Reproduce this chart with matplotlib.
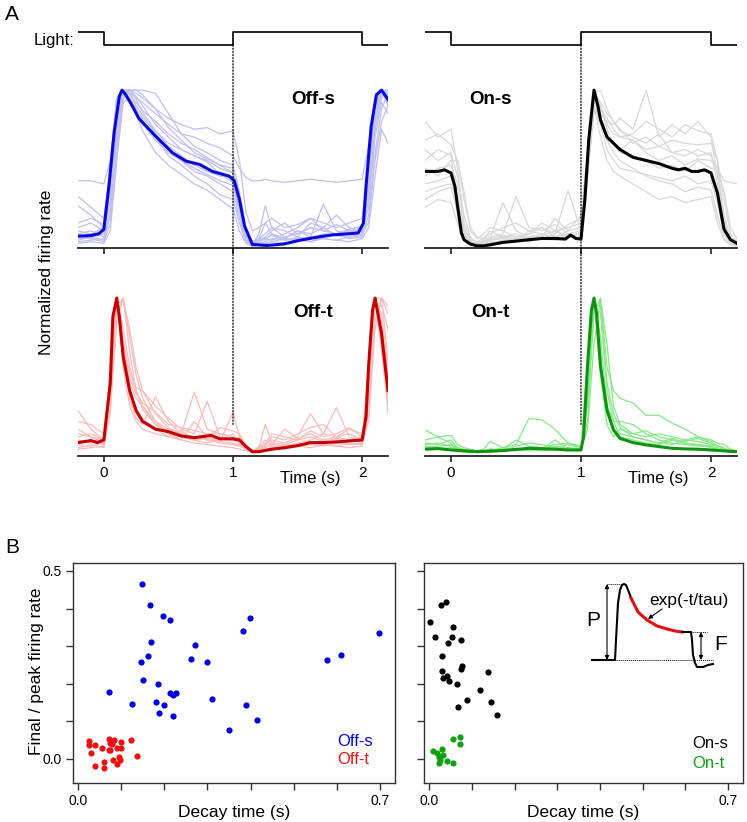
import numpy as np
import matplotlib.pyplot as plt
from matplotlib.patches import ConnectionPatch

plt.rcParams['font.family'] = ['Liberation Sans', 'DejaVu Sans']

W, H = 747, 822

# ---------------- Panel A data ----------------
# light stimulus (1 = on)
light_t = [-0.2, 0.0, 1.0, 2.0, 2.2]
light_on = [1, 0, 1, 0, 0]

# time grid of the single-cell traces (s)
t_cells = [-0.2, -0.1, 0.0, 0.05, 0.1, 0.15, 0.2, 0.25, 0.3, 0.4, 0.5, 0.6, 0.7, 0.8, 0.9, 1.0,
           1.05, 1.1, 1.15, 1.2, 1.25, 1.3, 1.4, 1.5, 1.6, 1.7, 1.8, 1.9, 2.0, 2.05, 2.1, 2.15, 2.2]

# Off-s
off_s_t = [-0.2, -0.1, -0.04, 0.0, 0.04, 0.08, 0.12, 0.14, 0.17, 0.22, 0.27, 0.4, 0.53, 0.635, 0.74, 0.84,
           0.97, 1.01, 1.05, 1.09, 1.15, 1.26, 1.39, 1.52, 1.67, 1.77, 1.93, 1.97, 2.01, 2.03, 2.07, 2.11, 2.15, 2.2]
off_s_mean = [0.066, 0.07, 0.081, 0.109, 0.39, 0.73, 0.96, 1.0, 0.97, 0.90, 0.82, 0.706, 0.60, 0.546, 0.525, 0.48,
              0.45, 0.42, 0.30, 0.13, 0.013, 0.006, 0.015, 0.04, 0.062, 0.074, 0.083, 0.087, 0.15, 0.386, 0.77, 0.97, 1.0, 0.94]
off_s_cells = [
    [0.42, 0.42, 0.40, 0.55, 0.95, 1.0, 0.98, 0.95, 0.92, 0.85, 0.78, 0.72, 0.70, 0.66, 0.63, 0.58, 0.50, 0.44, 0.42, 0.42, 0.43, 0.42, 0.41, 0.42, 0.43, 0.42, 0.41, 0.42, 0.43, 0.65, 0.95, 1.0, 0.9],
    [0.32, 0.25, 0.18, 0.50, 0.92, 1.0, 1.0, 0.98, 0.95, 0.88, 0.82, 0.78, 0.75, 0.76, 0.72, 0.74, 0.55, 0.22, 0.10, 0.12, 0.15, 0.18, 0.12, 0.14, 0.18, 0.15, 0.12, 0.15, 0.18, 0.55, 0.92, 1.0, 0.95],
    [0.26, 0.20, 0.12, 0.35, 0.85, 1.0, 1.0, 1.0, 1.0, 0.98, 0.85, 0.72, 0.64, 0.60, 0.55, 0.52, 0.35, 0.10, 0.03, 0.05, 0.08, 0.12, 0.06, 0.08, 0.12, 0.10, 0.08, 0.10, 0.12, 0.45, 0.88, 1.0, 1.0],
    [0.12, 0.15, 0.10, 0.30, 0.80, 1.0, 0.95, 0.88, 0.82, 0.74, 0.66, 0.62, 0.58, 0.55, 0.50, 0.47, 0.30, 0.08, 0.02, 0.05, 0.15, 0.08, 0.05, 0.10, 0.06, 0.27, 0.10, 0.08, 0.10, 0.35, 0.80, 0.98, 1.0],
    [0.08, 0.10, 0.06, 0.20, 0.70, 1.0, 0.98, 0.90, 0.84, 0.72, 0.62, 0.55, 0.50, 0.46, 0.42, 0.39, 0.22, 0.05, 0.01, 0.02, 0.03, 0.05, 0.04, 0.06, 0.05, 0.08, 0.07, 0.06, 0.08, 0.30, 0.75, 0.95, 0.98],
    [0.05, 0.06, 0.08, 0.45, 0.95, 0.98, 0.92, 0.85, 0.78, 0.68, 0.60, 0.55, 0.48, 0.45, 0.40, 0.35, 0.18, 0.04, 0.0, 0.01, 0.02, 0.03, 0.05, 0.04, 0.06, 0.05, 0.04, 0.06, 0.07, 0.40, 0.85, 1.0, 0.92],
    [0.10, 0.08, 0.12, 0.40, 0.90, 1.0, 0.93, 0.86, 0.80, 0.70, 0.58, 0.52, 0.45, 0.40, 0.33, 0.30, 0.15, 0.03, 0.01, 0.08, 0.26, 0.12, 0.10, 0.06, 0.15, 0.12, 0.20, 0.12, 0.10, 0.25, 0.70, 0.92, 0.85],
    [0.03, 0.04, 0.05, 0.25, 0.75, 0.98, 1.0, 0.96, 0.90, 0.78, 0.70, 0.62, 0.58, 0.54, 0.46, 0.41, 0.25, 0.06, 0.01, 0.03, 0.05, 0.07, 0.04, 0.05, 0.03, 0.06, 0.08, 0.05, 0.06, 0.20, 0.60, 0.88, 0.98],
    [0.06, 0.05, 0.03, 0.15, 0.60, 0.95, 1.0, 0.94, 0.86, 0.74, 0.64, 0.58, 0.52, 0.48, 0.45, 0.44, 0.28, 0.07, 0.02, 0.04, 0.06, 0.10, 0.15, 0.08, 0.12, 0.10, 0.14, 0.10, 0.09, 0.15, 0.55, 0.80, 0.90],
    [0.02, 0.03, 0.02, 0.10, 0.55, 0.92, 0.95, 0.85, 0.74, 0.60, 0.52, 0.46, 0.40, 0.36, 0.30, 0.24, 0.10, 0.02, 0.0, 0.01, 0.02, 0.03, 0.02, 0.04, 0.03, 0.05, 0.04, 0.03, 0.05, 0.12, 0.45, 0.75, 0.66],
    [0.15, 0.18, 0.14, 0.50, 0.92, 1.0, 0.97, 0.92, 0.87, 0.80, 0.72, 0.66, 0.62, 0.57, 0.52, 0.50, 0.30, 0.08, 0.03, 0.05, 0.04, 0.08, 0.05, 0.10, 0.08, 0.12, 0.07, 0.09, 0.12, 0.45, 0.90, 1.0, 0.98],
    [0.04, 0.06, 0.04, 0.20, 0.65, 0.95, 1.0, 1.0, 0.97, 0.88, 0.76, 0.68, 0.60, 0.56, 0.52, 0.47, 0.32, 0.09, 0.02, 0.03, 0.05, 0.04, 0.08, 0.12, 0.18, 0.10, 0.08, 0.11, 0.13, 0.38, 0.82, 0.97, 0.95],
]

# Off-t
off_t_t = [-0.2, -0.1, -0.05, 0.0, 0.05, 0.07, 0.1, 0.12, 0.15, 0.2, 0.25, 0.3, 0.4, 0.5, 0.6, 0.7, 0.8, 0.83, 0.9,
           1.0, 1.05, 1.1, 1.15, 1.2, 1.3, 1.4, 1.5, 1.6, 1.7, 1.8, 1.9, 2.0, 2.03, 2.05, 2.08, 2.1, 2.15, 2.2]
off_t_mean = [0.063, 0.076, 0.063, 0.08, 0.45, 0.88, 1.0, 0.88, 0.62, 0.40, 0.27, 0.20, 0.15, 0.134, 0.106, 0.095, 0.106, 0.11, 0.087,
              0.087, 0.08, 0.037, 0.004, 0.004, 0.02, 0.03, 0.043, 0.063, 0.063, 0.067, 0.074, 0.08, 0.23, 0.56, 0.92, 1.0, 0.77, 0.40]
off_t_cells = [
    [0.27, 0.15, 0.08, 0.50, 1.0, 0.70, 0.45, 0.35, 0.30, 0.20, 0.15, 0.12, 0.39, 0.15, 0.12, 0.10, 0.08, 0.03, 0.0, 0.02, 0.05, 0.08, 0.06, 0.10, 0.25, 0.12, 0.10, 0.08, 0.10, 0.45, 1.0, 0.85, 0.50],
    [0.10, 0.12, 0.08, 0.40, 1.0, 0.80, 0.55, 0.42, 0.40, 0.30, 0.22, 0.15, 0.12, 0.33, 0.10, 0.08, 0.06, 0.02, 0.0, 0.01, 0.03, 0.05, 0.04, 0.06, 0.08, 0.12, 0.29, 0.10, 0.08, 0.30, 0.95, 0.95, 0.80],
    [0.05, 0.04, 0.06, 0.55, 1.0, 0.60, 0.35, 0.22, 0.18, 0.36, 0.20, 0.12, 0.10, 0.08, 0.06, 0.05, 0.04, 0.02, 0.01, 0.03, 0.18, 0.06, 0.05, 0.04, 0.06, 0.05, 0.04, 0.06, 0.05, 0.60, 1.0, 0.70, 0.35],
    [0.20, 0.18, 0.12, 0.35, 0.95, 1.0, 0.65, 0.40, 0.30, 0.18, 0.14, 0.10, 0.08, 0.09, 0.07, 0.26, 0.10, 0.03, 0.01, 0.02, 0.04, 0.10, 0.08, 0.12, 0.16, 0.18, 0.10, 0.15, 0.12, 0.40, 1.0, 1.0, 0.60],
    [0.02, 0.03, 0.04, 0.30, 0.90, 1.0, 0.75, 0.50, 0.35, 0.20, 0.12, 0.08, 0.06, 0.05, 0.04, 0.03, 0.02, 0.01, 0.0, 0.01, 0.02, 0.03, 0.02, 0.04, 0.03, 0.05, 0.04, 0.03, 0.04, 0.25, 0.85, 1.0, 0.90],
    [0.06, 0.08, 0.05, 0.45, 1.0, 0.55, 0.30, 0.20, 0.15, 0.12, 0.10, 0.14, 0.08, 0.06, 0.09, 0.08, 0.10, 0.04, 0.01, 0.02, 0.01, 0.04, 0.03, 0.05, 0.07, 0.06, 0.08, 0.05, 0.06, 0.55, 1.0, 0.65, 0.30],
    [0.12, 0.10, 0.08, 0.48, 1.0, 0.68, 0.48, 0.38, 0.32, 0.26, 0.18, 0.16, 0.14, 0.12, 0.12, 0.10, 0.08, 0.03, 0.01, 0.03, 0.06, 0.12, 0.10, 0.08, 0.14, 0.10, 0.12, 0.16, 0.10, 0.42, 1.0, 0.80, 0.45],
    [0.03, 0.05, 0.03, 0.25, 0.85, 1.0, 0.80, 0.55, 0.40, 0.25, 0.16, 0.12, 0.10, 0.08, 0.07, 0.06, 0.05, 0.02, 0.0, 0.0, 0.02, 0.02, 0.03, 0.04, 0.05, 0.04, 0.06, 0.05, 0.06, 0.20, 0.80, 1.0, 0.95],
    [0.15, 0.10, 0.06, 0.42, 1.0, 0.62, 0.40, 0.28, 0.22, 0.15, 0.10, 0.08, 0.20, 0.10, 0.08, 0.12, 0.05, 0.02, 0.0, 0.04, 0.08, 0.05, 0.15, 0.09, 0.12, 0.08, 0.10, 0.12, 0.08, 0.50, 1.0, 0.75, 0.25],
    [0.08, 0.06, 0.10, 0.52, 1.0, 0.72, 0.52, 0.40, 0.28, 0.18, 0.12, 0.10, 0.08, 0.10, 0.16, 0.14, 0.12, 0.05, 0.01, 0.02, 0.03, 0.06, 0.05, 0.08, 0.10, 0.07, 0.09, 0.07, 0.07, 0.35, 0.98, 0.90, 0.55],
]

# On-s
on_s_t = [-0.2, -0.1, -0.05, 0.0, 0.03, 0.05, 0.08, 0.1, 0.15, 0.2, 0.25, 0.3, 0.4, 0.5, 0.6, 0.7, 0.8, 0.88, 0.92, 0.96, 1.0,
          1.03, 1.06, 1.1, 1.13, 1.15, 1.2, 1.3, 1.4, 1.5, 1.6, 1.7, 1.75, 1.8, 1.85, 1.9, 1.95, 2.0, 2.05, 2.1, 2.15, 2.2]
on_s_mean = [0.48, 0.48, 0.49, 0.47, 0.385, 0.26, 0.086, 0.043, 0.015, 0.004, 0.004, 0.01, 0.026, 0.034, 0.043, 0.051, 0.051, 0.047, 0.073, 0.051, 0.047,
             0.30, 0.685, 1.0, 0.90, 0.81, 0.70, 0.62, 0.57, 0.55, 0.53, 0.50, 0.49, 0.50, 0.48, 0.48, 0.49, 0.47, 0.34, 0.11, 0.043, 0.02]
on_s_cells = [
    [0.80, 0.70, 0.75, 0.50, 0.15, 0.05, 0.03, 0.05, 0.10, 0.06, 0.05, 0.08, 0.12, 0.06, 0.10, 0.12, 0.60, 0.95, 0.85, 0.80, 0.78, 0.82, 0.75, 1.0, 0.70, 0.78, 0.72, 0.80, 0.70, 0.45, 0.15, 0.05, 0.03],
    [0.55, 0.62, 0.58, 0.30, 0.08, 0.02, 0.0, 0.02, 0.05, 0.28, 0.10, 0.06, 0.08, 0.05, 0.07, 0.08, 0.55, 1.0, 0.90, 0.78, 0.72, 0.70, 0.68, 0.62, 0.64, 0.60, 0.62, 0.58, 0.60, 0.40, 0.10, 0.03, 0.02],
    [0.45, 0.50, 0.52, 0.40, 0.12, 0.03, 0.02, 0.04, 0.06, 0.08, 0.32, 0.12, 0.10, 0.14, 0.08, 0.06, 0.45, 0.85, 0.90, 0.75, 0.65, 0.60, 0.58, 0.55, 0.50, 0.52, 0.48, 0.55, 0.50, 0.50, 0.42, 0.41, 0.40],
    [0.30, 0.35, 0.38, 0.22, 0.05, 0.01, 0.0, 0.01, 0.02, 0.04, 0.05, 0.06, 0.05, 0.08, 0.36, 0.10, 0.50, 0.95, 0.80, 0.68, 0.60, 0.55, 0.50, 0.45, 0.42, 0.40, 0.35, 0.38, 0.36, 0.20, 0.05, 0.02, 0.01],
    [0.62, 0.55, 0.60, 0.45, 0.20, 0.06, 0.02, 0.03, 0.04, 0.06, 0.08, 0.05, 0.07, 0.10, 0.12, 0.15, 0.60, 0.98, 1.0, 0.88, 0.80, 0.74, 0.70, 0.66, 0.72, 0.60, 0.58, 0.62, 0.58, 0.48, 0.20, 0.05, 0.02],
    [0.25, 0.30, 0.28, 0.15, 0.04, 0.01, 0.0, 0.02, 0.03, 0.02, 0.04, 0.03, 0.05, 0.04, 0.06, 0.05, 0.45, 0.90, 0.70, 0.55, 0.48, 0.45, 0.40, 0.35, 0.30, 0.32, 0.28, 0.30, 0.32, 0.15, 0.04, 0.01, 0.0],
    [0.50, 0.45, 0.55, 0.55, 0.35, 0.10, 0.05, 0.08, 0.12, 0.10, 0.06, 0.04, 0.06, 0.18, 0.10, 0.20, 0.58, 0.95, 0.82, 0.70, 0.66, 0.62, 0.68, 0.60, 0.55, 0.58, 0.52, 0.56, 0.55, 0.50, 0.35, 0.12, 0.05],
    [0.40, 0.42, 0.45, 0.28, 0.08, 0.02, 0.01, 0.03, 0.05, 0.07, 0.06, 0.08, 0.15, 0.10, 0.06, 0.09, 0.48, 0.92, 0.88, 0.82, 0.75, 0.70, 0.72, 0.80, 0.75, 0.70, 0.78, 0.74, 0.72, 0.55, 0.18, 0.04, 0.02],
    [0.35, 0.38, 0.40, 0.30, 0.10, 0.04, 0.02, 0.03, 0.04, 0.05, 0.04, 0.10, 0.08, 0.06, 0.08, 0.10, 0.50, 0.90, 0.78, 0.62, 0.55, 0.50, 0.48, 0.46, 0.44, 0.42, 0.45, 0.40, 0.42, 0.28, 0.08, 0.02, 0.01],
    [0.68, 0.72, 0.65, 0.55, 0.30, 0.12, 0.06, 0.05, 0.08, 0.12, 0.15, 0.10, 0.12, 0.08, 0.14, 0.18, 0.62, 1.0, 0.92, 0.85, 0.80, 0.75, 0.66, 0.70, 0.64, 0.68, 0.66, 0.65, 0.66, 0.55, 0.30, 0.08, 0.03],
]

# On-t
on_t_t = [-0.2, -0.1, 0.0, 0.2, 0.4, 0.6, 0.8, 0.9, 1.0, 1.02, 1.05, 1.08, 1.1, 1.12, 1.15, 1.2, 1.25, 1.3,
          1.4, 1.5, 1.6, 1.7, 1.8, 1.9, 2.0, 2.1, 2.2]
on_t_mean = [0.02, 0.024, 0.015, 0.004, 0.011, 0.026, 0.02, 0.015, 0.015, 0.10, 0.56, 0.92, 1.0, 0.90, 0.56, 0.275, 0.145, 0.09,
             0.063, 0.048, 0.037, 0.026, 0.022, 0.02, 0.015, 0.009, 0.004]
on_t_cells = [
    [0.145, 0.10, 0.11, 0.05, 0.03, 0.02, 0.01, 0.02, 0.07, 0.03, 0.05, 0.22, 0.21, 0.15, 0.06, 0.03, 0.30, 0.90, 1.0, 0.55, 0.40, 0.35, 0.32, 0.24, 0.24, 0.19, 0.15, 0.10, 0.08, 0.06, 0.05, 0.02, 0.01],
    [0.08, 0.10, 0.06, 0.02, 0.01, 0.01, 0.0, 0.01, 0.02, 0.02, 0.08, 0.04, 0.03, 0.05, 0.06, 0.04, 0.50, 1.0, 0.60, 0.25, 0.15, 0.12, 0.10, 0.08, 0.06, 0.05, 0.08, 0.10, 0.07, 0.04, 0.02, 0.01, 0.01],
    [0.05, 0.06, 0.04, 0.02, 0.01, 0.0, 0.0, 0.01, 0.01, 0.03, 0.02, 0.03, 0.02, 0.04, 0.02, 0.03, 0.20, 0.95, 0.95, 0.40, 0.20, 0.10, 0.08, 0.06, 0.05, 0.08, 0.06, 0.05, 0.04, 0.02, 0.02, 0.01, 0.0],
    [0.03, 0.04, 0.05, 0.03, 0.01, 0.0, 0.0, 0.0, 0.02, 0.01, 0.02, 0.02, 0.03, 0.02, 0.03, 0.02, 0.60, 0.98, 0.50, 0.18, 0.10, 0.15, 0.12, 0.14, 0.10, 0.08, 0.07, 0.09, 0.06, 0.03, 0.02, 0.0, 0.0],
    [0.06, 0.05, 0.08, 0.03, 0.02, 0.01, 0.0, 0.01, 0.0, 0.01, 0.04, 0.06, 0.05, 0.03, 0.05, 0.03, 0.15, 0.70, 1.0, 0.70, 0.30, 0.18, 0.12, 0.10, 0.12, 0.10, 0.08, 0.07, 0.05, 0.04, 0.03, 0.01, 0.0],
    [0.02, 0.03, 0.02, 0.01, 0.0, 0.0, 0.0, 0.0, 0.01, 0.02, 0.01, 0.02, 0.01, 0.02, 0.03, 0.02, 0.40, 1.0, 0.75, 0.30, 0.20, 0.20, 0.18, 0.12, 0.08, 0.06, 0.05, 0.04, 0.04, 0.02, 0.01, 0.0, 0.0],
    [0.04, 0.02, 0.03, 0.02, 0.01, 0.0, 0.01, 0.01, 0.02, 0.01, 0.02, 0.01, 0.02, 0.08, 0.02, 0.02, 0.35, 0.96, 0.90, 0.45, 0.25, 0.16, 0.10, 0.08, 0.06, 0.09, 0.06, 0.05, 0.03, 0.02, 0.01, 0.0, 0.0],
]

# ---------------- Panel B data ----------------
off_s_decay = [0.148, 0.166, 0.197, 0.212, 0.398, 0.383, 0.698, 0.170, 0.270, 0.162, 0.146, 0.261, 0.300, 0.578, 0.609,
               0.151, 0.186, 0.071, 0.212, 0.219, 0.227, 0.125, 0.181, 0.200, 0.311, 0.389, 0.188, 0.220, 0.416, 0.351]
off_s_ratio = [0.465, 0.409, 0.380, 0.370, 0.376, 0.340, 0.334, 0.310, 0.303, 0.273, 0.257, 0.267, 0.259, 0.262, 0.277,
               0.211, 0.199, 0.179, 0.176, 0.170, 0.176, 0.146, 0.152, 0.144, 0.160, 0.143, 0.121, 0.115, 0.103, 0.076]
off_t_decay = [0.025, 0.026, 0.039, 0.029, 0.039, 0.056, 0.061, 0.059, 0.071, 0.074, 0.078, 0.074, 0.080, 0.089, 0.090,
               0.094, 0.099, 0.100, 0.098, 0.123, 0.137, 0.071, 0.083]
off_t_ratio = [0.048, 0.036, 0.036, 0.017, -0.018, 0.030, -0.024, -0.009, 0.052, 0.043, 0.040, 0.025, -0.002, -0.013, 0.030,
               0.005, 0.044, 0.029, -0.002, 0.050, 0.008, 0.023, 0.050]
on_s_decay = [0.028, 0.040, 0.003, 0.014, 0.056, 0.053, 0.044, 0.075, 0.031, 0.029, 0.033, 0.041, 0.047, 0.074, 0.078,
              0.065, 0.139, 0.119, 0.088, 0.068, 0.144, 0.158]
on_s_ratio = [0.410, 0.417, 0.363, 0.325, 0.351, 0.324, 0.308, 0.316, 0.273, 0.233, 0.214, 0.220, 0.207, 0.238, 0.246,
              0.200, 0.230, 0.182, 0.157, 0.138, 0.151, 0.117]
on_t_decay = [0.057, 0.072, 0.072, 0.010, 0.019, 0.029, 0.022, 0.026, 0.024, 0.042, 0.057, 0.033]
on_t_ratio = [0.053, 0.059, 0.040, 0.021, 0.016, 0.026, 0.005, -0.004, -0.010, -0.005, -0.011, 0.010]

# schematic response in the inset (pixel-like units, y grows downward)
sch_x = [592, 615, 616, 618, 620, 622, 624, 626, 628, 630, 631]
sch_y = [660, 660, 640, 603, 590, 585, 584, 585, 590, 595, 598]
sch_red_x = [631, 638, 647, 657, 667, 675, 682]
sch_red_y = [598, 612, 620, 626, 629, 631, 632]
sch_end_x = [682, 691, 692, 693, 695, 697, 703, 708, 713]
sch_end_y = [632, 632, 640, 655, 663, 667, 667, 665, 664]


def box(x0, y0, x1, y1):
    # pixel box -> figure fraction
    return [x0 / W, 1 - y1 / H, (x1 - x0) / W, (y1 - y0) / H]


fig = plt.figure(figsize=(W / 100, H / 100), dpi=100)

panels = [
    ('Off-s', box(78, 87, 388, 248), (-0.01, 1.02), off_s_t, off_s_mean, off_s_cells, '#0a0ad8', '#bfbff0', (1.62, 0.94)),
    ('On-s', box(425, 87, 737, 248), (-0.01, 1.02), on_s_t, on_s_mean, on_s_cells, 'black', '#d8d8d8', (0.30, 0.94)),
    ('Off-t', box(78, 295, 388, 456), (-0.024, 1.02), off_t_t, off_t_mean, off_t_cells, '#c40000', '#f6bcbc', (1.62, 0.905)),
    ('On-t', box(425, 295, 737, 456), (-0.024, 1.02), on_t_t, on_t_mean, on_t_cells, '#119111', '#86e886', (0.30, 0.905)),
]

axes = {}
for name, pos, ylim, tm, mean, cells, dark, light, lab in panels:
    ax = fig.add_axes(pos)
    for tr in cells:
        ax.plot(t_cells, tr, color=light, lw=0.9)
    ax.plot(tm, mean, color=dark, lw=2.2)
    ax.set_xlim(-0.2, 2.2)
    ax.set_ylim(*ylim)
    for s in ['left', 'right', 'top']:
        ax.spines[s].set_visible(False)
    ax.spines['bottom'].set_color('#222222')
    ax.spines['bottom'].set_linewidth(1.3)
    ax.set_yticks([])
    ax.set_xticks([0, 1, 2])
    ax.tick_params(axis='x', direction='out', length=4, width=1.2, color='#222222', pad=3, labelsize=11)
    ax.text(lab[0], lab[1], name, fontsize=13.5, fontweight='bold', ha='center', va='center')
    axes[name] = ax

for name in ['Off-s', 'On-s']:
    axes[name].tick_params(axis='x', labelbottom=False)
for name in ['Off-t', 'On-t']:
    axes[name].text(1.36, -0.14, 'Time (s)', fontsize=12, ha='left', va='center',
                    transform=axes[name].get_xaxis_transform())

# light stimulus traces + dotted line at light onset
for top, bot, x0, x1 in [('Off-s', 'Off-t', 78, 388), ('On-s', 'On-t', 425, 737)]:
    axl = fig.add_axes(box(x0, 28, x1, 50))
    axl.plot(light_t, light_on, drawstyle='steps-post', color='black', lw=1.2)
    axl.set_xlim(-0.2, 2.2)
    axl.set_ylim(-0.385, 1.31)
    axl.axis('off')
    con = ConnectionPatch(xyA=(1.0, 0.0), coordsA=axl.transData, xyB=(1.0, 0.18), coordsB=axes[bot].transData,
                          color='black', lw=0.9, linestyle=(0, (1, 1.5)))
    fig.add_artist(con)

fig.text(74 / W, 1 - 41 / H, 'Light:', fontsize=12, ha='right', va='center')
fig.text(47 / W, 1 - 272 / H, 'Normalized firing rate', fontsize=12.5, rotation=90, ha='center', va='center')
fig.text(12 / W, 1 - 14 / H, 'A', fontsize=15, ha='center', va='center')
fig.text(12 / W, 1 - 547 / H, 'B', fontsize=15, ha='center', va='center')

# ---------------- Panel B ----------------
axL = fig.add_axes(box(73, 563, 395, 783))
axR = fig.add_axes(box(424, 563, 743, 783))
axL.scatter(off_s_decay, off_s_ratio, s=20, color='#0000dd', linewidths=0)
axL.scatter(off_t_decay, off_t_ratio, s=20, color='#ee1111', linewidths=0)
axR.scatter(on_s_decay, on_s_ratio, s=20, color='black', linewidths=0)
axR.scatter(on_t_decay, on_t_ratio, s=20, color='#11a011', linewidths=0)

for ax in [axL, axR]:
    ax.set_xlim(-0.012, 0.735)
    ax.set_ylim(-0.064, 0.521)
    ax.set_xticks(np.arange(0, 0.71, 0.1))
    ax.set_xticklabels(['0.0', '', '', '', '', '', '', '0.7'])
    ax.set_yticks(np.arange(0, 0.51, 0.1))
    ax.set_yticklabels(['0.0', '', '', '', '', '0.5'])
    ax.tick_params(direction='out', length=5, width=1, color='#333333', pad=3, labelsize=10)
    for s in ax.spines.values():
        s.set_color('#333333')
        s.set_linewidth(1.0)
    ax.text(0.5, -0.136, 'Decay time (s)', fontsize=12.5, ha='center', va='center', transform=ax.transAxes)
axR.tick_params(axis='y', labelleft=False)

fig.text(37 / W, 1 - 671 / H, 'Final / peak firing rate', fontsize=12.5, rotation=90, ha='center', va='center')

axL.text(0.82, 0.19, 'Off-s', color='#0000dd', fontsize=12, ha='left', va='center', transform=axL.transAxes)
axL.text(0.82, 0.105, 'Off-t', color='#ee1111', fontsize=12, ha='left', va='center', transform=axL.transAxes)
axR.text(0.84, 0.18, 'On-s', color='black', fontsize=12, ha='left', va='center', transform=axR.transAxes)
axR.text(0.84, 0.09, 'On-t', color='#11a011', fontsize=12, ha='left', va='center', transform=axR.transAxes)

# inset schematic of the decay fit
axI = fig.add_axes(box(580, 572, 740, 678))
axI.set_xlim(580, 740)
axI.set_ylim(678, 572)
axI.axis('off')
axI.plot(sch_x, sch_y, color='black', lw=1.5)
axI.plot(sch_red_x, sch_red_y, color='#e21010', lw=2.2)
axI.plot(sch_end_x, sch_end_y, color='black', lw=1.5)
axI.plot([607, 624], [584, 584], color='black', lw=0.7, ls=(0, (1, 1)))
axI.plot([615, 713], [660, 660], color='black', lw=0.7, ls=(0, (1, 1)))
axI.plot([691, 707], [632, 632], color='black', lw=0.7, ls=(0, (1, 1)))
arr = dict(arrowstyle='<|-|>', lw=0.8, color='black', shrinkA=0, shrinkB=0, mutation_scale=6)
axI.annotate('', xy=(607, 584), xytext=(607, 660), arrowprops=arr)
axI.annotate('', xy=(701, 632), xytext=(701, 660), arrowprops=arr)
axI.annotate('', xy=(648, 619), xytext=(662, 609),
             arrowprops=dict(arrowstyle='-|>', lw=0.8, color='black', shrinkA=0, shrinkB=0, mutation_scale=6))
axI.text(593, 620, 'P', fontsize=15, ha='center', va='center')
axI.text(721, 644, 'F', fontsize=15, ha='center', va='center')
axI.text(689, 601, 'exp(-t/tau)', fontsize=12.5, ha='center', va='center')

fig.savefig('out.png', dpi=100)
